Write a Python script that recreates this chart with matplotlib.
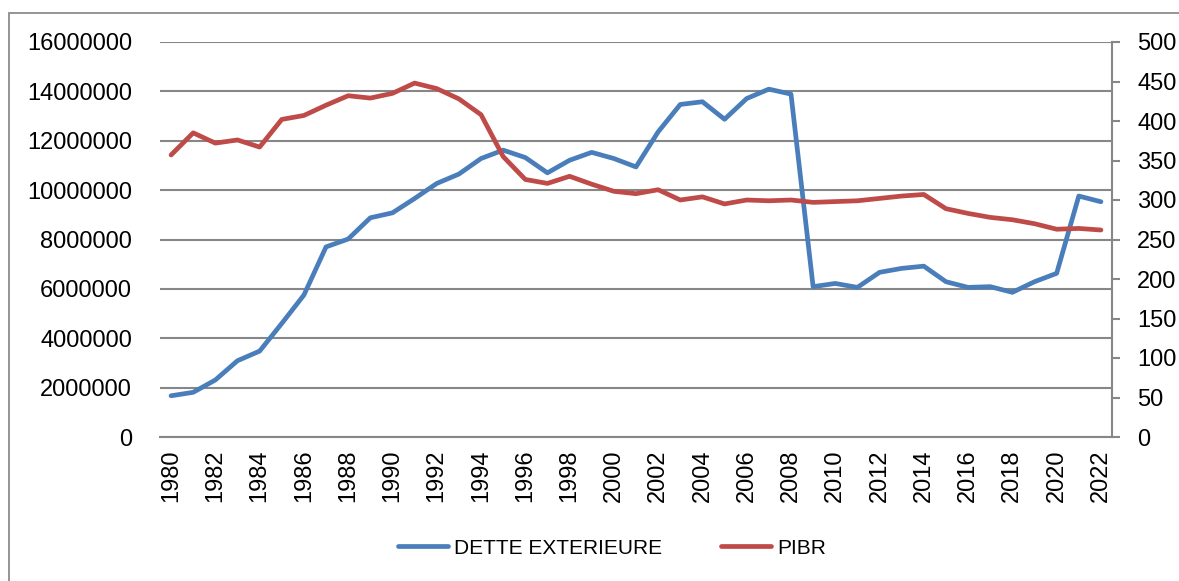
import matplotlib
matplotlib.use("Agg")
import matplotlib.pyplot as plt
from matplotlib.patches import Rectangle

years = list(range(1980, 2023))
dette = [1670000, 1810000, 2310000, 3090000, 3480000, 4600000, 5750000, 7700000,
         8020000, 8880000, 9080000, 9660000, 10270000, 10650000, 11280000, 11620000,
         11320000, 10700000, 11210000, 11530000, 11280000, 10940000, 12360000, 13470000,
         13580000, 12870000, 13710000, 14090000, 13890000, 6090000, 6220000, 6060000,
         6670000, 6830000, 6920000, 6290000, 6060000, 6090000, 5860000, 6290000,
         6630000, 9760000, 9530000]
pibr = [357, 385, 372, 376, 367, 402, 407, 420, 432, 429, 435, 448, 441, 428, 408,
        355, 326, 321, 330, 320, 311, 308, 313, 300, 304, 295, 300, 299, 300, 297,
        298, 299, 302, 305, 307, 289, 283, 278, 275, 270, 263, 264, 262]
left_ticks = list(range(0, 16000001, 2000000))
right_ticks = list(range(0, 501, 50))
xlabels = [str(y) if (y - 1980) % 2 == 0 else "" for y in years]

plt.rcParams['font.family'] = ['Liberation Sans', 'DejaVu Sans']
W, H = 1179, 581
fig = plt.figure(figsize=(W / 100, H / 100), dpi=100)
ax = fig.add_axes([160 / W, 1 - 437 / H, (1112 - 160) / W, (437 - 42) / H])
ax2 = ax.twinx()

grid_c = '#878787'
blue = '#4a7ebb'
red = '#be4b48'

x = list(range(len(years)))
ax.plot(x, dette, color=blue, lw=3.4, solid_joinstyle='round', solid_capstyle='round',
        label='DETTE EXTERIEURE', zorder=3)
ax2.plot(x, pibr, color=red, lw=3.4, solid_joinstyle='round', solid_capstyle='round',
         label='PIBR', zorder=3)

ax.set_xlim(-0.5, len(years) - 0.5)
ax.set_ylim(0, 16000000)
ax2.set_ylim(0, 500)
ax.set_yticks(left_ticks)
ax.set_yticklabels([str(v) for v in left_ticks])
ax2.set_yticks(right_ticks)
ax2.set_yticklabels([str(v) for v in right_ticks])
ax.set_xticks(x)
ax.set_xticklabels(xlabels, rotation=90)

ax.yaxis.grid(True, color=grid_c, lw=1.5)
ax.set_axisbelow(True)
for s in ['top', 'left', 'right']:
    ax.spines[s].set_visible(False)
for s in ['top', 'left']:
    ax2.spines[s].set_visible(False)
ax.spines['bottom'].set_color(grid_c)
ax.spines['bottom'].set_linewidth(1.5)
ax2.spines['bottom'].set_visible(False)
ax2.spines['right'].set_color(grid_c)
ax2.spines['right'].set_linewidth(1.5)

ax.tick_params(axis='y', length=0, pad=20, labelsize=17)
ax.tick_params(axis='x', length=0, pad=9, labelsize=17)
ax2.tick_params(axis='y', length=6, width=1.5, color=grid_c, pad=12, labelsize=17)

# chart border
fig.patches.append(Rectangle((9 / W, -0.5), 2.0, 1 - 13 / H + 0.5, transform=fig.transFigure,
                             fill=False, edgecolor='#8c8c8c', lw=1.3))

h1, l1 = ax.get_legend_handles_labels()
h2, l2 = ax2.get_legend_handles_labels()
fig.legend(h1 + h2, l1 + l2, loc='center', bbox_to_anchor=(612 / W, 1 - 548 / H),
           bbox_transform=fig.transFigure, ncol=2, frameon=False, fontsize=15,
           handlelength=2.4, handletextpad=0.3, columnspacing=2.8)

fig.savefig('out.png', dpi=100)
